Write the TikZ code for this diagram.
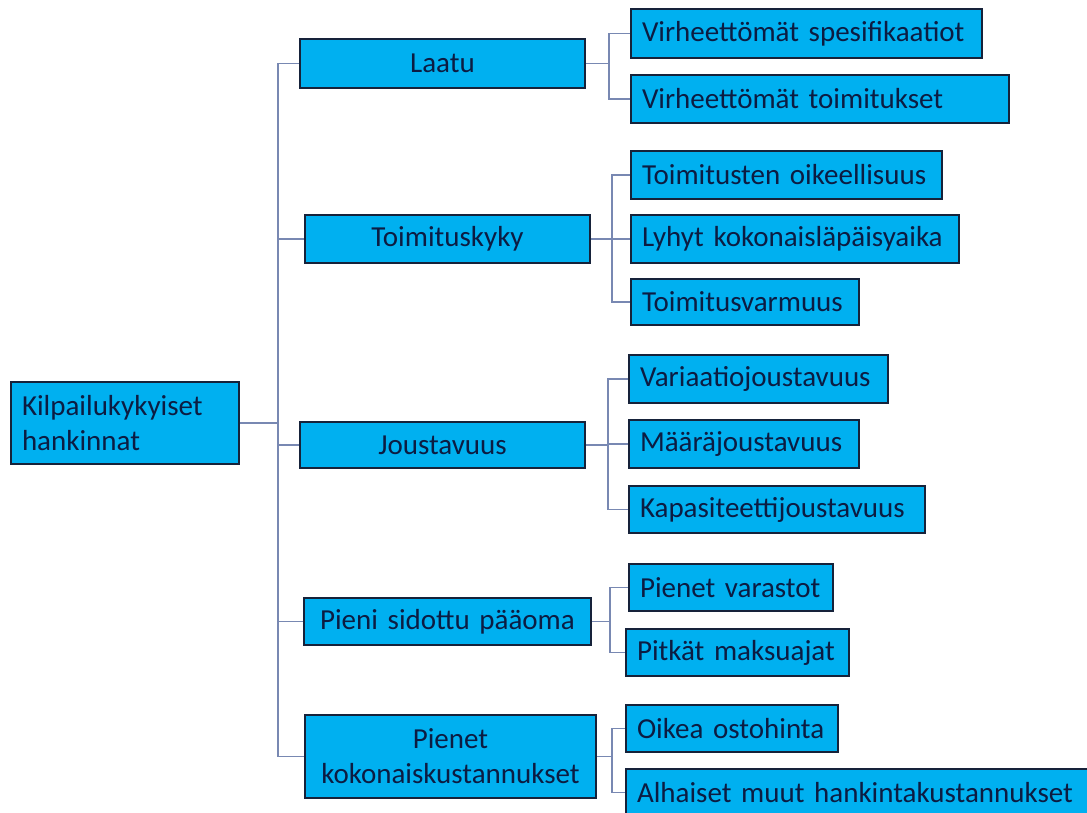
\documentclass[tikz,border=0pt]{standalone}
\usepackage{fontspec}
\setmainfont{Carlito}
\definecolor{boxfill}{RGB}{0,176,240}
\definecolor{boxline}{RGB}{22,34,58}
\definecolor{txt}{RGB}{12,28,66}
\definecolor{conn}{RGB}{120,136,178}
\newcommand\dfont{\fontsize{29}{35}\selectfont}
\tikzset{
  bx/.style={draw=boxline, fill=boxfill, line width=1.6pt, text=txt, font=\dfont,
             inner ysep=0pt, inner xsep=11pt, align=left},
  ctr/.style={bx, align=center, inner xsep=4pt},
  cn/.style={draw=conn, line width=1.4pt}
}
\begin{document}
\begin{tikzpicture}[x=1pt,y=-1pt]
\useasboundingbox (0,0) rectangle (1087,813);
% root
\node[bx, minimum width=228pt, text width=206pt, minimum height=82pt] (root) at (125,423) {Kilpailukykyiset\\hankinnat};
% level 1
\node[ctr, minimum width=285pt, text width=277pt, minimum height=49pt] (laatu) at (442.5,63.5) {Laatu};
\node[ctr, minimum width=285pt, text width=277pt, minimum height=48pt] (toim) at (447.5,239) {Toimituskyky};
\node[ctr, minimum width=285pt, text width=277pt, minimum height=46pt] (jous) at (442.5,445) {Joustavuus};
\node[ctr, minimum width=287pt, text width=279pt, minimum height=47pt] (pien) at (447.5,621.5) {Pieni sidottu pääoma};
\node[ctr, minimum width=291pt, text width=283pt, minimum height=83pt] (kok) at (450.5,756.5) {Pienet\\kokonaiskustannukset};
% level 2
\node[bx, minimum width=351pt, text width=329pt, minimum height=49pt] (vs) at (806.5,33.5) {Virheettömät spesifikaatiot};
\node[bx, minimum width=378pt, text width=356pt, minimum height=48pt] (vt) at (820,99) {Virheettömät toimitukset};
\node[bx, minimum width=311pt, text width=289pt, minimum height=48pt] (to) at (786.5,175) {Toimitusten oikeellisuus};
\node[bx, minimum width=328pt, text width=306pt, minimum height=48pt] (lk) at (795,239) {Lyhyt kokonaisläpäisyaika};
\node[bx, minimum width=228pt, text width=206pt, minimum height=46pt] (tv) at (745,302) {Toimitusvarmuus};
\node[bx, minimum width=259pt, text width=237pt, minimum height=48pt] (va) at (758.5,379) {Variaatiojoustavuus};
\node[bx, minimum width=230pt, text width=208pt, minimum height=48pt] (ma) at (744,444) {Määräjoustavuus};
\node[bx, minimum width=296pt, text width=274pt, minimum height=47pt] (ka) at (777,509.5) {Kapasiteettijoustavuus};
\node[bx, minimum width=204pt, text width=182pt, minimum height=47pt] (pv) at (731,587.5) {Pienet varastot};
\node[bx, minimum width=223pt, text width=201pt, minimum height=47pt] (pm) at (737.5,652.5) {Pitkät maksuajat};
\node[bx, minimum width=212pt, text width=190pt, minimum height=47pt] (oo) at (732,728.5) {Oikea ostohinta};
\node[bx, minimum width=474pt, text width=452pt, minimum height=47pt] (al) at (863,792.5) {Alhaiset muut hankintakustannukset};
% trunk
\draw[cn] (root.east) -- ++(38,0) coordinate (t);
\foreach \n in {laatu,toim,jous,pien,kok} \draw[cn] (t) |- (\n.west);
% buses
\draw[cn] (laatu.east) -- ++(23,0) coordinate (b1);
\foreach \n in {vs,vt} \draw[cn] (b1) |- (\n.west);
\draw[cn] (toim.east) -- ++(21,0) coordinate (b2);
\foreach \n in {to,lk,tv} \draw[cn] (b2) |- (\n.west);
\draw[cn] (jous.east) -- ++(22,0) coordinate (b3);
\foreach \n in {va,ma,ka} \draw[cn] (b3) |- (\n.west);
\draw[cn] (pien.east) -- ++(18,0) coordinate (b4);
\foreach \n in {pv,pm} \draw[cn] (b4) |- (\n.west);
\draw[cn] (kok.east) -- ++(15,0) coordinate (b5);
\foreach \n in {oo,al} \draw[cn] (b5) |- (\n.west);
\end{tikzpicture}
\end{document}
